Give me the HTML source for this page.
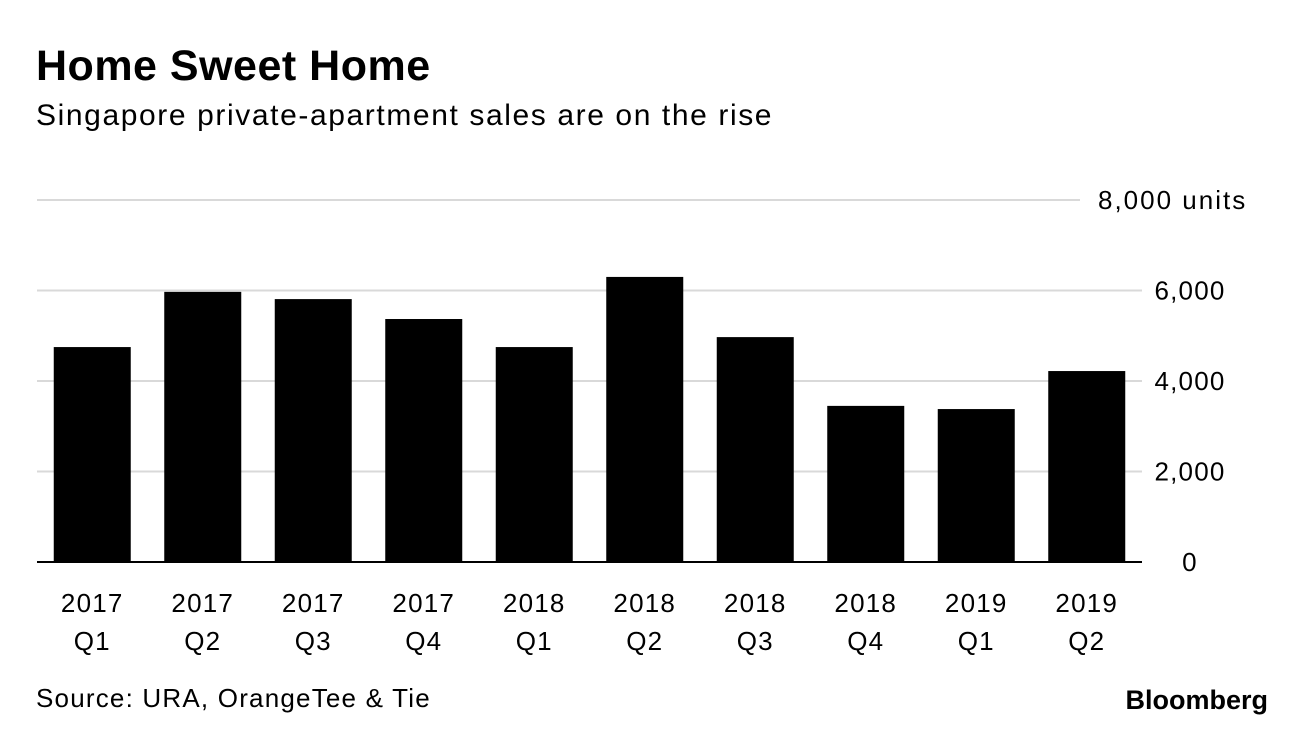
<!DOCTYPE html>
<html><head><meta charset="utf-8"><style>
body{margin:0;background:#fff;font-family:"Liberation Sans",Arial,sans-serif;}
#wrap{position:relative;width:1296px;height:730px;overflow:hidden;}
</style></head><body>
<div id="wrap">
<svg id="chart" width="1296" height="730">
<text x="36" y="80" font-size="43" font-weight="bold" fill="#000" letter-spacing="0.5">Home Sweet Home</text>
<text x="36" y="125" font-size="30" fill="#000" letter-spacing="1.6">Singapore private-apartment sales are on the rise</text>
<g id="grid"></g><g id="bars"></g><g id="xlabels"></g>
<text x="36" y="707" font-size="26" fill="#000" letter-spacing="1.2">Source: URA, OrangeTee &amp; Tie</text>
<text x="1268" y="709" font-size="27" font-weight="bold" text-anchor="end" fill="#000">Bloomberg</text>
</svg></div>
<script>
const categories=["2017 Q1","2017 Q2","2017 Q3","2017 Q4","2018 Q1","2018 Q2","2018 Q3","2018 Q4","2019 Q1","2019 Q2"];
const salesValues=[4750,5970,5810,5370,4750,6300,4970,3450,3380,4220];
const yTicks=[0,2000,4000,6000,8000];
const yTickLabels=["0","2,000","4,000","6,000","8,000 units"];
const NS="http://www.w3.org/2000/svg";
const x0=37,x1=1142,yBase=562,yTop=200,yMax=8000;
function y(v){return yBase-(yBase-yTop)*v/yMax;}
const band=(x1-x0)/categories.length;
function xc(i){return x0+band*(i+0.5);}
function mk(t,a,p){const e=document.createElementNS(NS,t);for(const k in a)e.setAttribute(k,a[k]);p.appendChild(e);return e;}
const grid=document.getElementById('grid'),bars=document.getElementById('bars'),xl=document.getElementById('xlabels');
yTicks.forEach((v,i)=>{
 if(v>0){const l=mk('line',{x1:x0,x2:i==yTicks.length-1?1080:x1,y1:y(v),y2:y(v),stroke:'#d9d9d9','stroke-width':2},grid);
 
 }
 const t=mk('text',{x:v==8000?1098:1190,y:y(v)+9,'font-size':26,'letter-spacing':v==8000?2:1.2,'text-anchor':v==8000?'start':'middle',fill:'#000'},grid);
 t.textContent=yTickLabels[i];
 
 
});
salesValues.forEach((v,i)=>{
 const r=mk('rect',{x:xc(i)-38.5,y:y(v),width:77,height:yBase-y(v),fill:'#000'},bars);
 
 
 const p=categories[i].split(' ');
 const t=mk('text',{x:xc(i),y:612,'font-size':26,'letter-spacing':1.2,'text-anchor':'middle',fill:'#000'},xl);
 t.textContent=p[0];
 
 
 const q=mk('text',{x:xc(i),y:650,'font-size':26,'letter-spacing':1.2,'text-anchor':'middle',fill:'#000'},xl);
 q.textContent=p[1];
 
 
});
const ax=mk('line',{x1:x0,x2:x1,y1:yBase,y2:yBase,stroke:'#000','stroke-width':2},grid);


</script>
</body></html>
